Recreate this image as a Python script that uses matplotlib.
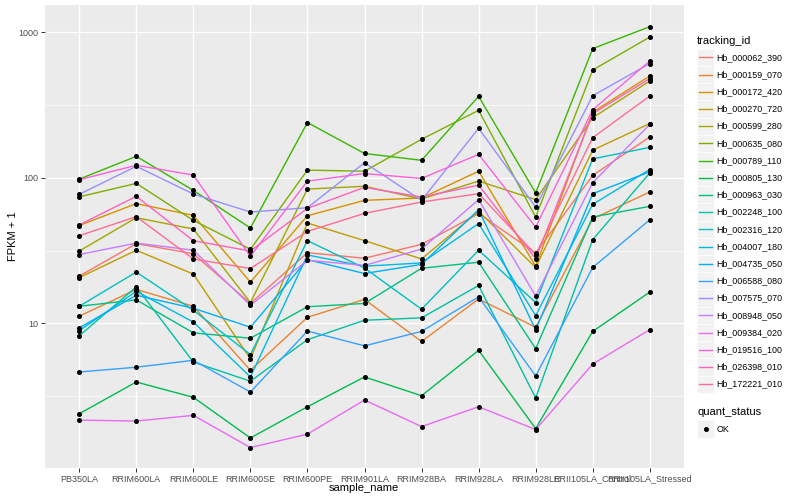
import matplotlib
matplotlib.use("Agg")
import matplotlib.pyplot as plt
import matplotlib.patches as patches
import numpy as np

plt.rcParams['font.family'] = ['Liberation Sans', 'DejaVu Sans']

# sample names on the x axis
samples = ['PB350LA', 'RRIM600LA', 'RRIM600LE', 'RRIM600SE', 'RRIM600PE', 'RRIM901LA',
           'RRIM928BA', 'RRIM928LA', 'RRIM928LE', 'RRII105LA_Control', 'RRII105LA_Stressed']

# FPKM + 1 per gene
hb_000062_390 = [21.1, 35.3, 30.1, 13.7, 30.6, 28.0, 34.9, 56.8, 30.4, 104, 191]
hb_000159_070 = [11.2, 17.1, 13.1, 4.75, 11.0, 14.6, 7.5, 14.7, 9.4, 52.2, 80]
hb_000172_420 = [47, 66.5, 55.2, 19.2, 54.9, 70, 72.7, 111, 24.7, 283, 501]
hb_000270_720 = [20.6, 31.8, 21.8, 5.7, 48.9, 37, 27.7, 58.9, 24.2, 155, 236]
hb_000599_280 = [31.4, 53.2, 44.5, 13.9, 83.7, 87.5, 71.5, 95, 70.8, 259, 463]
hb_000635_080 = [74, 91.6, 51, 32.3, 113, 111, 184, 291, 53.8, 551, 928]
hb_000789_110 = [98, 140.5, 82, 45.2, 240, 147, 132, 363, 78.7, 773, 1094]
hb_000805_130 = [2.39, 3.95, 3.1, 1.63, 2.67, 4.28, 3.18, 6.52, 1.89, 8.8, 16.4]
hb_000963_030 = [13.1, 14.5, 8.6, 7.9, 13.0, 13.7, 23.9, 26.3, 6.7, 53.8, 63.7]
hb_002248_100 = [8.2, 17.8, 5.42, 4.0, 7.72, 10.5, 10.9, 18.2, 3.07, 37.6, 108]
hb_002316_120 = [13.1, 22.5, 12.3, 6.1, 37, 24.0, 12.5, 31.8, 13.9, 135, 162]
hb_004007_180 = [8.9, 16.6, 10.2, 4.28, 29.5, 24.7, 26, 48.5, 11.3, 65.7, 114]
hb_004735_050 = [9.3, 15.6, 12.7, 9.4, 27.4, 22, 25.4, 60.4, 9.0, 77.8, 110]
hb_006588_080 = [4.63, 4.99, 5.57, 3.37, 8.85, 7.0, 8.8, 15.2, 4.35, 24.2, 51.5]
hb_007575_070 = [77, 120, 77.4, 58.2, 62.3, 127, 70, 219, 63, 367, 610]
hb_008948_050 = [29.7, 35.6, 31.8, 13.3, 27.1, 25.0, 32.4, 70.8, 15.4, 92.6, 233]
hb_009384_020 = [2.16, 2.13, 2.33, 1.40, 1.73, 2.97, 1.95, 2.67, 1.86, 5.25, 9.05]
hb_019516_100 = [97, 122, 104.5, 28.9, 95, 107, 99, 145, 45.8, 294, 635]
hb_026398_010 = [47.5, 74.6, 37, 31.4, 61.7, 86, 73.8, 89, 27.8, 276, 481]
hb_172221_010 = [40, 54.1, 27.7, 23.8, 42.8, 57, 68.2, 77.8, 29.7, 189, 365]

tracking_ids = ['Hb_000062_390', 'Hb_000159_070', 'Hb_000172_420', 'Hb_000270_720',
                'Hb_000599_280', 'Hb_000635_080', 'Hb_000789_110', 'Hb_000805_130',
                'Hb_000963_030', 'Hb_002248_100', 'Hb_002316_120', 'Hb_004007_180',
                'Hb_004735_050', 'Hb_006588_080', 'Hb_007575_070', 'Hb_008948_050',
                'Hb_009384_020', 'Hb_019516_100', 'Hb_026398_010', 'Hb_172221_010']
series = [hb_000062_390, hb_000159_070, hb_000172_420, hb_000270_720, hb_000599_280,
          hb_000635_080, hb_000789_110, hb_000805_130, hb_000963_030, hb_002248_100,
          hb_002316_120, hb_004007_180, hb_004735_050, hb_006588_080, hb_007575_070,
          hb_008948_050, hb_009384_020, hb_019516_100, hb_026398_010, hb_172221_010]

# ggplot2 hue palette, 20 levels
colors = ['#F8766D', '#EA8331', '#D89000', '#C09B00', '#A3A500', '#7CAE00', '#39B600',
          '#00BB4E', '#00BF7D', '#00C1A3', '#00BFC4', '#00BAE0', '#00B0F6', '#35A2FF',
          '#9590FF', '#C77CFF', '#E76BF3', '#FA62DB', '#FF62BC', '#FF6C91']

W, H = 800, 500
fig = plt.figure(figsize=(8, 5), dpi=100)

def fx(x):
    return x / W

def fy(y):
    return 1 - y / H

# panel in pixel coords: left 45, right 684, top 5, bottom 468
ax = fig.add_axes([fx(45), fy(468), fx(684 - 45), (468 - 5) / H])
ax.set_facecolor('#EBEBEB')
for s in ax.spines.values():
    s.set_visible(False)

x = np.arange(1, len(samples) + 1)
for vals, col in zip(series, colors):
    ax.plot(x, vals, color=col, lw=1.0, zorder=3)
for vals in series:
    ax.plot(x, vals, 'o', color='black', ms=2.6, zorder=4)

ax.set_yscale('log')
ax.set_xlim(0.4, 11.6)
ax.set_ylim(10 ** 0.0055, 10 ** 3.188)
ax.set_yticks([10, 100, 1000])
ax.set_yticklabels(['10', '100', '1000'])
ax.set_yticks([10 ** 0.5, 10 ** 1.5, 10 ** 2.5], minor=True)
ax.set_yticklabels([], minor=True)
ax.set_xticks(x)
ax.set_xticklabels(samples)

ax.grid(True, which='major', color='white', lw=1.0, zorder=0)
ax.grid(True, which='minor', axis='y', color='white', lw=0.5, zorder=0)
ax.set_axisbelow(True)
ax.tick_params(which='major', length=2.7, width=0.7, color='#333333',
               labelcolor='#4D4D4D', labelsize=6.5, pad=2)
ax.tick_params(which='minor', length=0)

fig.text(fx(364), fy(488), 'sample_name', ha='center', va='center', fontsize=8)
fig.text(fx(13), fy(236), 'FPKM + 1', ha='center', va='center', rotation=90, fontsize=8)

# legend: tracking_id
fig.text(fx(697), fy(40.7), 'tracking_id', ha='left', va='center', fontsize=8)
for i, (name, col) in enumerate(zip(tracking_ids, colors)):
    yc = 57.3 + i * 17.2
    fig.patches.append(patches.Rectangle((fx(697), fy(yc + 8.6)), 17 / W, 17.2 / H,
                                         transform=fig.transFigure, facecolor='#F2F2F2',
                                         edgecolor='white', lw=0.5))
    fig.lines.append(plt.Line2D([fx(699), fx(712)], [fy(yc), fy(yc)], color=col, lw=1.0,
                                transform=fig.transFigure))
    fig.text(fx(716.5), fy(yc), name, ha='left', va='center', fontsize=6.4)

# legend: quant_status
fig.text(fx(697), fy(412), 'quant_status', ha='left', va='center', fontsize=8)
fig.patches.append(patches.Rectangle((fx(697), fy(429 + 8.6)), 17 / W, 17.2 / H,
                                     transform=fig.transFigure, facecolor='#F2F2F2',
                                     edgecolor='white', lw=0.5))
fig.lines.append(plt.Line2D([fx(705.5)], [fy(429)], marker='o', color='black', ms=2.6,
                            transform=fig.transFigure))
fig.text(fx(716.5), fy(429), 'OK', ha='left', va='center', fontsize=6.4)

fig.savefig('out.png', dpi=100)
